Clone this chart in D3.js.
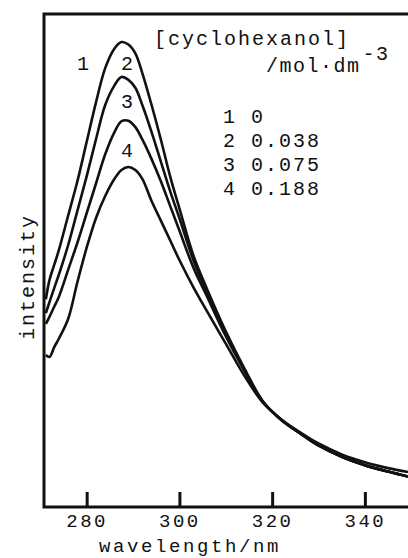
<!DOCTYPE html>
<html>
<head>
<meta charset="utf-8">
<script src="https://cdn.jsdelivr.net/npm/d3@7"></script>
<style>
  body { margin: 0; background: #fff; }
  text { font-family: "Liberation Mono", "Courier New", monospace; fill: #111; }
</style>
</head>
<body>
<div id="chart"></div>
<script>
const wavelengths = [271.2, 272, 273, 274, 276, 278, 280, 282, 284, 286, 287.5, 289, 290.5, 292, 294,
                     296, 298, 300, 303, 306, 310, 314, 318, 322, 326, 330, 335, 340, 345, 349.3];

const curve1 = [42, 46, 49, 52, 59, 66, 74, 82, 89, 93, 94.3, 93.8, 92, 88, 81.5,
                74.5, 67, 60.5, 51, 44, 35.5, 28, 21.3, 17.5, 14.8, 12.3, 10, 8.3, 7, 6];
const curve2 = [39.2, 41.5, 44.3, 47, 53, 60, 67, 74.5, 81.5, 85.5, 87.2, 86.6, 85, 81.5, 76,
                70, 64, 58.5, 50, 43.3, 35, 27.7, 21.2, 17.5, 14.8, 12.3, 10, 8.3, 7, 6];
const curve3 = [37, 38.5, 40.5, 42.5, 48, 53.5, 59.5, 65.5, 71.5, 76, 78.2, 78.3, 77, 74.5, 70.5,
                66, 61, 56, 48.5, 42.5, 34.5, 27.5, 21.2, 17.5, 14.8, 12.3, 10, 8.3, 7, 6];
const curve4 = [30.7, 30.3, 32.3, 34, 38, 45.5, 52.5, 58.5, 63, 66.5, 68.3, 68.9, 68.3, 66.5, 62,
                58, 54, 50, 44.5, 39.5, 33, 26.5, 21, 17.6, 15, 12.7, 10.5, 8.9, 7.7, 6.9];

const curveIds = ['1', '2', '3', '4'];
const concentrations = ['0', '0.038', '0.075', '0.188'];
const xTicks = [280, 300, 320, 340];

document.addEventListener('DOMContentLoaded', () => {
  const width = 408;
  const height = 558;
  const left = 44;
  const top = 14;
  const bottom = 506;

  const svg = d3.select('#chart')
                .append('svg')
                .attr('width', width)
                .attr('height', height);

  const xScale = d3.scaleLinear()
                   .domain([270.8, 349.3])
                   .range([left, width]);

  const yScale = d3.scaleLinear()
                   .domain([0, 100])
                   .range([bottom, top]);

  // frame: left, top and bottom edges, right one is cut off by the picture
  svg.append('path')
     .attr('d', `M${width + 5},${top} H${left} V${bottom + 1} H${width + 5}`)
     .attr('fill', 'none')
     .attr('stroke', '#111')
     .attr('stroke-width', 3);

  const xAxis = d3.axisBottom(xScale)
                  .tickValues(xTicks)
                  .tickSizeInner(-15)
                  .tickSizeOuter(0)
                  .tickPadding(7);

  const gx = svg.append('g')
                .attr('transform', 'translate(0,' + (bottom + 1) + ')')
                .call(xAxis);
  gx.select('.domain').remove();
  gx.selectAll('line').attr('stroke', '#111').attr('stroke-width', 3);
  gx.selectAll('text')
    .attr('fill', '#111')
    .style('font-size', '19px')
    .style('letter-spacing', '2.5px');

  svg.append('text')
     .attr('x', 190)
     .attr('y', 552)
     .attr('text-anchor', 'middle')
     .style('font-size', '19px')
     .style('letter-spacing', '2.6px')
     .text('wavelength/nm');

  svg.append('text')
     .attr('transform', 'translate(34,277) rotate(-90)')
     .attr('text-anchor', 'middle')
     .style('font-size', '20px')
     .style('letter-spacing', '2px')
     .text('intensity');

  const line = d3.line()
                 .x((d, i) => xScale(wavelengths[i]))
                 .y((d) => yScale(d))
                 .curve(d3.curveCatmullRom.alpha(0.5));

  svg.append('clipPath')
     .attr('id', 'plot-clip')
     .append('rect')
     .attr('x', left)
     .attr('y', top)
     .attr('width', width - left)
     .attr('height', bottom - top);

  svg.append('g')
     .attr('clip-path', 'url(#plot-clip)')
     .selectAll('path')
     .data([curve1, curve2, curve3, curve4])
     .enter()
     .append('path')
     .attr('d', line)
     .attr('fill', 'none')
     .attr('stroke', '#111')
     .attr('stroke-width', 2.6)
     .attr('stroke-linejoin', 'round');

  // curve numbers, placed in data units
  const labelWl = [279.2, 288.7, 288.7, 288.7];
  const labelInt = [88.6, 88.6, 80.9, 70.9];
  svg.selectAll('.curve-label')
     .data(curveIds)
     .enter()
     .append('text')
     .attr('class', 'curve-label')
     .attr('x', (d, i) => xScale(labelWl[i]))
     .attr('y', (d, i) => yScale(labelInt[i]))
     .attr('text-anchor', 'middle')
     .style('font-size', '20px')
     .text((d) => d);

  svg.append('text')
     .attr('x', 154)
     .attr('y', 45)
     .style('font-size', '20px')
     .style('letter-spacing', '2px')
     .text('[cyclohexanol]');

  const unit = svg.append('text')
                  .attr('x', 266)
                  .attr('y', 72)
                  .style('font-size', '20px')
                  .style('letter-spacing', '1.5px');
  unit.append('tspan').text('/mol\u00b7dm');
  unit.append('tspan')
      .attr('dy', -12)
      .attr('dx', 2)
      .text('-3');

  svg.selectAll('.legend')
     .data(curveIds)
     .enter()
     .append('text')
     .attr('class', 'legend')
     .attr('x', 223)
     .attr('y', (d, i) => 123 + i * 24)
     .style('font-size', '20px')
     .style('letter-spacing', '2px')
     .text((d, i) => d + ' ' + concentrations[i]);
});
</script>
</body>
</html>
